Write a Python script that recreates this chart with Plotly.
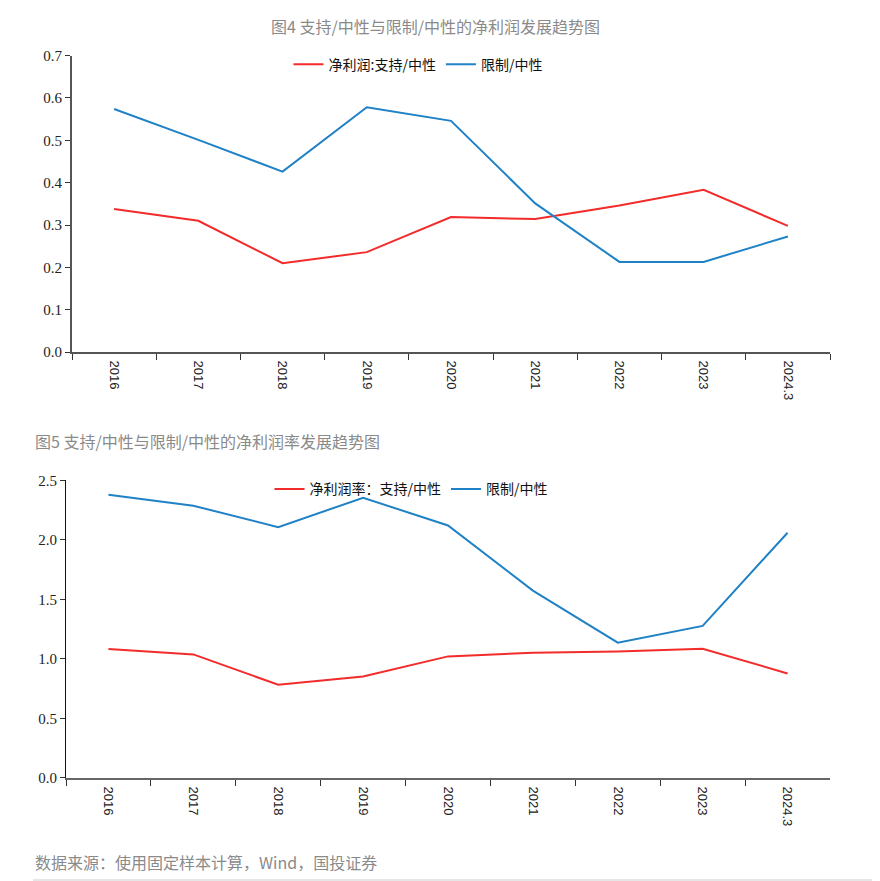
import plotly.graph_objects as go

categories = ["2016", "2017", "2018", "2019", "2020", "2021", "2022", "2023", "2024.3"]

# Chart 1: 净利润 ratios
profit_support = [0.338, 0.310, 0.210, 0.236, 0.319, 0.314, 0.346, 0.383, 0.298]
profit_restrict = [0.574, 0.501, 0.426, 0.578, 0.546, 0.351, 0.213, 0.213, 0.273]

# Chart 2: 净利润率 ratios
margin_support = [1.083, 1.038, 0.783, 0.853, 1.021, 1.052, 1.063, 1.086, 0.878]
margin_restrict = [2.380, 2.287, 2.107, 2.354, 2.121, 1.574, 1.136, 1.277, 2.060]

y1_ticks = [0.0, 0.1, 0.2, 0.3, 0.4, 0.5, 0.6, 0.7]
y2_ticks = [0.0, 0.5, 1.0, 1.5, 2.0, 2.5]

RED = "#f32b2b"
BLUE = "#1f82c6"

FW, FH = 864, 881
XOFF = 8
YOFF, YSC = 16.5, 0.98

def px(x):
    return (x - XOFF) / FW

def py(y):
    return 1 - ((y - YOFF) / YSC) / FH

fig = go.Figure()
fig.add_trace(go.Scatter(x=categories, y=profit_support, mode="lines", name="净利润:支持/中性",
                         line=dict(color=RED, width=2), xaxis="x", yaxis="y", legend="legend"))
fig.add_trace(go.Scatter(x=categories, y=profit_restrict, mode="lines", name="限制/中性",
                         line=dict(color=BLUE, width=2), xaxis="x", yaxis="y", legend="legend"))
fig.add_trace(go.Scatter(x=categories, y=margin_support, mode="lines", name="净利润率：支持/中性",
                         line=dict(color=RED, width=2), xaxis="x2", yaxis="y2", legend="legend2"))
fig.add_trace(go.Scatter(x=categories, y=margin_restrict, mode="lines", name="限制/中性",
                         line=dict(color=BLUE, width=2), xaxis="x2", yaxis="y2", legend="legend2"))

serif = "Liberation Serif, Times New Roman, serif"
sans = "Liberation Sans, Arial, sans-serif"
cjk = "Noto Sans CJK SC, sans-serif"

def xaxis(domain, anchor, color, width):
    return dict(domain=domain, anchor=anchor, type="category", range=[-0.5, 8.5],
                showline=True, linecolor=color, linewidth=width,
                ticks="outside", tickson="boundaries", ticklen=6, tickcolor="#333", tickwidth=1,
                tickangle=90, ticklabelstandoff=4,
                tickfont=dict(family=sans, size=13, color="#222"),
                showgrid=False, zeroline=False, fixedrange=True)

def yaxis(domain, anchor, rng, ticks, fmt, color, width):
    return dict(domain=domain, anchor=anchor, range=rng, tickvals=ticks,
                ticktext=[fmt.format(t) for t in ticks],
                showline=True, linecolor=color, linewidth=width,
                ticks="outside", ticklen=5, tickcolor="#333", tickwidth=1,
                tickfont=dict(family=serif, size=15, color="#222"),
                showgrid=False, zeroline=False, fixedrange=True)

fig.update_layout(
    width=FW, height=FH, autosize=False,
    margin=dict(l=0, r=0, t=0, b=0),
    paper_bgcolor="white", plot_bgcolor="white",
    xaxis=xaxis([px(72), px(830)], "y", "#555", 1.5),
    yaxis=yaxis([py(352), py(56)], "x", [0, 0.7], y1_ticks, "{:.1f}", "#555", 2),
    xaxis2=xaxis([px(66), px(830)], "y2", "#666", 2),
    yaxis2=yaxis([py(777), py(480)], "x2", [0, 2.5], y2_ticks, "{:.1f}", "#111", 1),
    legend=dict(orientation="h", x=px(418), y=py(65), xanchor="center", yanchor="middle",
                font=dict(family=cjk, size=14, color="#111"), bgcolor="rgba(0,0,0,0)",
                itemwidth=30, tracegroupgap=0),
    legend2=dict(orientation="h", x=px(411), y=py(489), xanchor="center", yanchor="middle",
                 font=dict(family=cjk, size=14, color="#111"), bgcolor="rgba(0,0,0,0)",
                 itemwidth=30, tracegroupgap=0),
    showlegend=True,
    annotations=[
        dict(text="图4 支持/中性与限制/中性的净利润发展趋势图", x=px(435), y=1 - 10.5 / FH,
             xref="paper", yref="paper", xanchor="center", yanchor="middle", showarrow=False,
             font=dict(family=cjk, size=16, color="#8a8a8a")),
        dict(text="图5 支持/中性与限制/中性的净利润率发展趋势图", x=px(33), y=py(441),
             xref="paper", yref="paper", xanchor="left", yanchor="middle", showarrow=False,
             font=dict(family=cjk, size=16, color="#8a8a8a")),
        dict(text="数据来源：使用固定样本计算，Wind，国投证券", x=px(33), y=py(861),
             xref="paper", yref="paper", xanchor="left", yanchor="middle", showarrow=False,
             font=dict(family=cjk, size=16, color="#8a8a8a")),
    ],
    shapes=[
        dict(type="line", xref="paper", yref="paper", x0=px(33), x1=1, y0=py(879), y1=py(879),
             line=dict(color="#e6e6e6", width=2)),
    ],
)

fig.write_html("out.html")
